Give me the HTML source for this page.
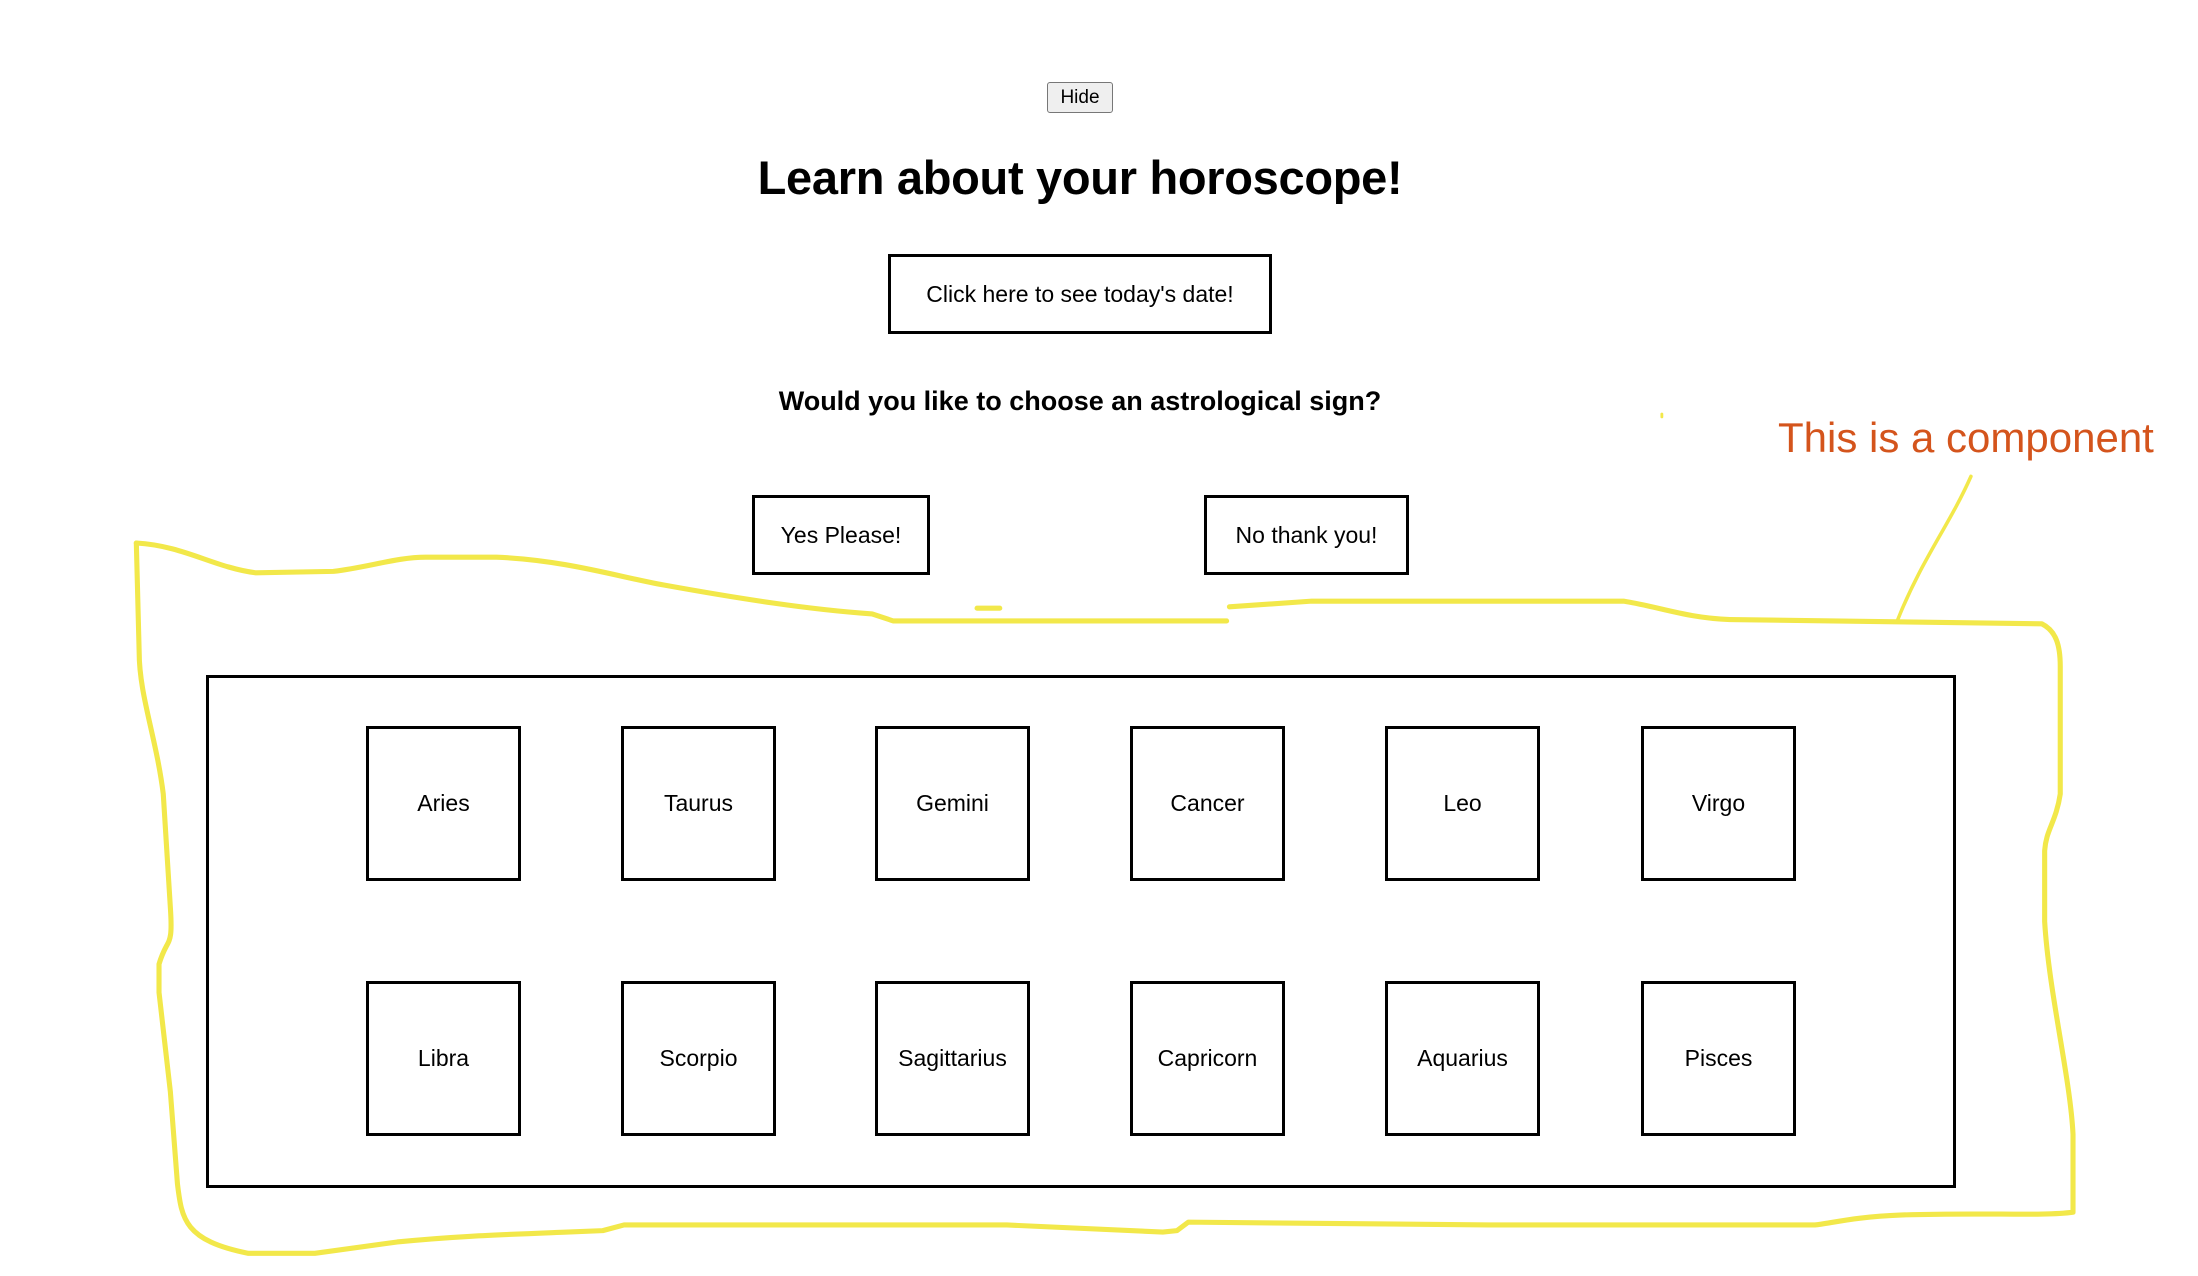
<!DOCTYPE html>
<html><head><meta charset="utf-8"><style>
html,body{margin:0;padding:0;background:#fff;}
body{width:2198px;height:1276px;position:relative;overflow:hidden;font-family:"Liberation Sans",sans-serif;color:#000;}
.a{position:absolute;box-sizing:border-box;display:flex;align-items:center;justify-content:center;}
.b{border:3px solid #000;font-size:23px;}
</style></head><body>
<div class="a" style="left:1047px;top:82px;width:66px;height:31px;border:1.5px solid #777;border-radius:3px;background:#efefef;font-size:19px;">Hide</div>
<div class="a" style="left:580px;top:145px;width:1000px;height:64px;font-size:47px;font-weight:bold;letter-spacing:-0.3px;">Learn about your horoscope!</div>
<div class="a b" style="left:888px;top:254px;width:384px;height:80px;">Click here to see today's date!</div>
<div class="a" style="left:580px;top:383px;width:1000px;height:36px;font-size:27px;font-weight:bold;">Would you like to choose an astrological sign?</div>
<div class="a b" style="left:752px;top:495px;width:178px;height:80px;">Yes Please!</div>
<div class="a b" style="left:1204px;top:495px;width:205px;height:80px;">No thank you!</div>
<div class="a" style="left:206px;top:675px;width:1750px;height:513px;border:3px solid #000;"></div>
<div class="a b" style="left:366px;top:726px;width:155px;height:155px;">Aries</div>
<div class="a b" style="left:621px;top:726px;width:155px;height:155px;">Taurus</div>
<div class="a b" style="left:875px;top:726px;width:155px;height:155px;">Gemini</div>
<div class="a b" style="left:1130px;top:726px;width:155px;height:155px;">Cancer</div>
<div class="a b" style="left:1385px;top:726px;width:155px;height:155px;">Leo</div>
<div class="a b" style="left:1641px;top:726px;width:155px;height:155px;">Virgo</div>
<div class="a b" style="left:366px;top:981px;width:155px;height:155px;">Libra</div>
<div class="a b" style="left:621px;top:981px;width:155px;height:155px;">Scorpio</div>
<div class="a b" style="left:875px;top:981px;width:155px;height:155px;">Sagittarius</div>
<div class="a b" style="left:1130px;top:981px;width:155px;height:155px;">Capricorn</div>
<div class="a b" style="left:1385px;top:981px;width:155px;height:155px;">Aquarius</div>
<div class="a b" style="left:1641px;top:981px;width:155px;height:155px;">Pisces</div>
<div style="position:absolute;left:1778px;top:414px;font-size:42px;color:#d4541c;white-space:nowrap;">This is a component</div>
<svg style="position:absolute;left:0;top:0" width="2198" height="1276" viewBox="0 0 1550 900" fill="none" stroke="#f2e84a" stroke-width="3.6" stroke-linecap="round" stroke-linejoin="round">
<path d="M96,383 C130,385 150,400 180,404 L235,403 C260,400 280,393 300,393 L350,393 C400,395 440,408 470,413 C520,422 570,430 615,433 L630,438 L865,438"/>
<path d="M867,428 L925,424 L1145,424 C1170,428 1190,436 1220,437 L1440,440 C1450,445 1453,455 1453,470 L1453,560 C1450,580 1443,585 1442,600 L1442,650 C1445,700 1460,760 1462,800 L1462,855 C1440,858 1400,855 1340,857 C1310,858 1290,863 1280,864 L1050,864 L838,862 L830,868 L820,869 L710,864 L440,864 L425,868 L400,869 C350,871 320,872 280,876 L222,884 L175,884 C130,875 128,860 125,835 L120,770 L112,700 L112,680 C118,660 122,670 120,640 L115,560 C110,520 98,490 98,460 L96,383"/>
<path d="M689,429 L705,429"/>
<path d="M1390,336 C1375,370 1355,395 1338,438" stroke-width="2.5"/>
<path d="M1172,292 L1172,294" stroke-width="2"/>
</svg>
</body></html>
